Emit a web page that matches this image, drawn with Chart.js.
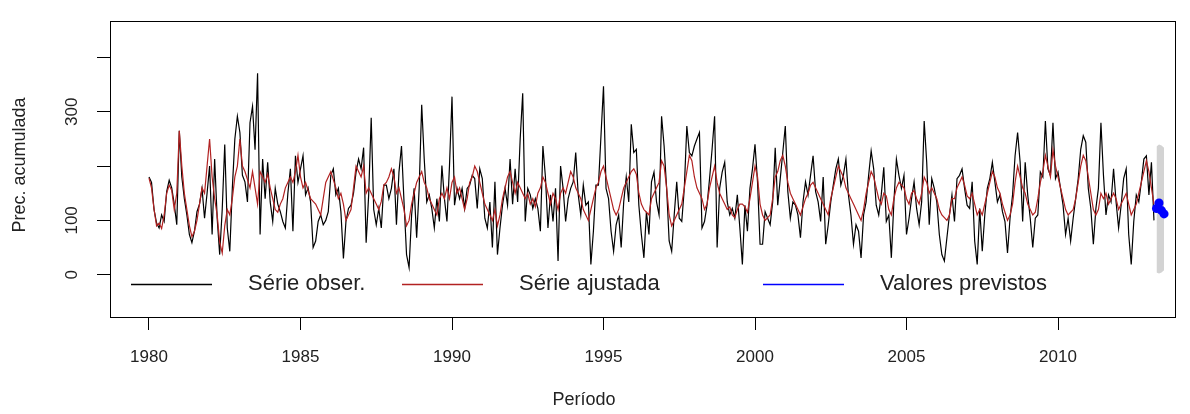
<!DOCTYPE html>
<html>
<head>
<meta charset="utf-8">
<script src="https://cdn.jsdelivr.net/npm/chart.js@4.4.0/dist/chart.umd.min.js"></script>
<style>
  html, body { margin: 0; padding: 0; background: #fff; }
  #wrap { width: 1190px; height: 414px; }
</style>
</head>
<body>
<div id="wrap"><canvas id="chart" width="1190" height="414"></canvas></div>
<script>
// monthly series starting Jan 1980, one row per year
const startYear = 1980;

const observed = [
  180,170,120,95,86,110,98,153,174,160,130,92,
  265,180,140,110,74,59,80,116,130,159,104,150,
  200,74,213,104,37,120,240,86,43,159,250,292,
  262,183,171,134,280,310,230,371,74,213,140,207,
  134,98,159,130,116,98,86,150,195,80,219,170,
  195,219,147,160,134,50,62,98,110,92,100,116,
  183,195,147,159,116,30,98,122,128,150,189,213,
  195,234,59,147,289,120,92,122,86,165,165,140,
  159,195,92,189,237,134,37,13,110,159,68,159,
  313,213,134,147,122,86,140,98,201,140,98,200,
  328,128,159,140,159,122,159,165,183,177,122,195,
  177,104,86,134,50,171,37,86,128,159,128,213,
  130,195,134,250,334,98,159,147,122,140,122,80,
  237,180,86,147,98,159,25,200,159,98,140,159,
  171,225,147,110,165,128,134,19,80,165,165,256,
  347,159,140,80,43,92,110,50,134,180,134,277,
  225,231,128,74,31,116,74,171,189,134,110,292,
  237,159,62,43,110,171,104,98,159,274,225,219,
  237,250,262,86,98,128,177,231,292,50,159,189,
  207,134,110,122,104,147,86,19,128,80,159,195,
  240,171,56,56,116,104,92,134,234,128,177,225,
  274,153,104,134,128,110,68,134,171,147,183,219,
  153,134,98,180,56,92,134,165,195,213,165,183,
  213,147,110,56,92,80,31,110,134,183,228,195,
  128,110,147,198,98,110,31,134,213,183,159,183,
  74,104,140,171,122,92,134,283,207,92,177,159,
  134,74,37,25,68,110,147,98,177,183,195,159,
  128,122,171,62,19,122,43,110,159,177,207,171,
  134,147,116,98,40,104,147,219,262,207,98,207,
  147,104,50,104,110,189,180,283,195,183,280,177,
  189,159,128,74,104,62,104,140,177,231,256,244,
  159,122,56,122,159,280,183,110,147,134,195,134,
  86,128,177,195,74,19,98,147,134,171,213,219,
  147,207,100
];

const fitted = [
  178,160,120,90,95,85,110,150,165,155,120,150,
  265,200,150,120,90,70,80,100,130,160,150,200,
  250,180,140,110,60,40,90,120,110,140,180,200,
  250,200,190,175,160,190,160,130,190,180,170,185,
  160,140,120,115,130,140,160,170,180,170,190,220,
  180,160,170,155,140,135,130,120,110,140,170,180,
  190,175,160,140,150,130,100,110,120,160,200,190,
  180,200,150,160,150,140,130,120,135,165,170,180,
  195,180,150,160,140,120,90,100,130,150,170,180,
  190,170,160,140,130,120,110,140,150,140,160,140,
  170,180,150,160,140,120,140,170,180,200,190,170,
  150,130,120,110,100,120,90,110,140,160,180,190,
  170,150,170,160,150,140,150,130,140,125,150,160,
  180,170,150,130,150,140,120,150,160,150,170,190,
  180,160,150,140,120,110,100,120,140,160,170,190,
  200,180,160,140,120,110,120,140,160,170,180,190,
  195,185,150,130,120,115,110,140,150,160,170,210,
  200,160,110,90,100,110,120,130,160,190,220,210,
  180,160,150,140,120,130,160,180,200,170,150,140,
  130,120,125,110,105,120,130,130,125,115,140,170,
  200,180,130,110,100,105,110,140,180,190,210,220,
  200,170,150,140,130,120,110,125,140,150,165,170,
  160,150,140,130,120,110,140,160,180,200,190,180,
  160,150,140,130,120,110,100,120,150,170,190,180,
  160,140,130,150,145,120,110,140,160,170,165,160,
  140,130,150,155,140,130,150,180,170,150,160,150,
  140,120,110,105,100,110,140,140,160,170,180,165,
  145,140,150,130,110,120,110,130,150,170,190,180,
  160,150,130,115,100,110,130,170,200,180,160,150,
  130,120,110,115,140,170,190,220,200,180,230,200,
  180,160,140,120,110,115,120,140,170,200,220,210,
  180,150,120,110,120,150,140,150,130,140,150,140,
  120,130,140,150,130,110,120,130,150,170,190,210,
  190,160,130
];

// forecast: month index counted from Jan 1980
const forecastMonths = [399, 400, 401, 402];
const forecast = [122, 132, 118, 112];
const forecastUpper = [236, 240, 238, 234];
const forecastLower = [4, 2, 4, 8];

const xTicks = [1980, 1985, 1990, 1995, 2000, 2005, 2010];
const yTicks = [0, 100, 200, 300, 400];
const yLabels = [0, 100, 300];

const legendItems = [
  { text: 'Série obser.', color: '#000000' },
  { text: 'Série ajustada', color: '#b22222' },
  { text: 'Valores previstos', color: '#0000ff' }
];

const FONT = '"Liberation Sans", Arial, sans-serif';

const series = vals => vals.map((v, i) => ({ x: startYear + i / 12, y: v }));
const fcSeries = vals => vals.map((v, i) => ({ x: startYear + forecastMonths[i] / 12, y: v }));

// box around the plot, axis titles and the legend inside the plot
const decorations = {
  id: 'decorations',
  afterDraw(chart) {
    const { ctx, chartArea: a } = chart;
    ctx.save();
    ctx.strokeStyle = '#000';
    ctx.lineWidth = 1;
    ctx.strokeRect(Math.round(a.left) + 0.5, Math.round(a.top) + 0.5,
      Math.round(a.right - a.left), Math.round(a.bottom - a.top));

    ctx.fillStyle = '#222';
    ctx.font = '18px ' + FONT;
    ctx.textAlign = 'center';
    ctx.textBaseline = 'middle';
    ctx.fillText('Período', 584, 400);
    ctx.save();
    ctx.translate(20, 165);
    ctx.rotate(-Math.PI / 2);
    ctx.fillText('Prec. acumulada', 0, 0);
    ctx.restore();

    // legend
    const ly = 284;
    const lineX = [131, 402, 763];
    ctx.font = '22px ' + FONT;
    ctx.textAlign = 'left';
    legendItems.forEach((item, i) => {
      ctx.strokeStyle = item.color;
      ctx.lineWidth = 1.3;
      ctx.beginPath();
      ctx.moveTo(lineX[i], ly + 0.5);
      ctx.lineTo(lineX[i] + 81, ly + 0.5);
      ctx.stroke();
      ctx.fillStyle = '#222';
      ctx.fillText(item.text, lineX[i] + 117, ly);
    });
    ctx.restore();
  }
};

const tickFont = { family: FONT, size: 17 };

new Chart(document.getElementById('chart'), {
  type: 'line',
  data: {
    datasets: [
      {
        label: 'Valores previstos',
        data: fcSeries(forecast),
        borderColor: '#0000ff',
        backgroundColor: '#0000ff',
        borderWidth: 1.3,
        pointRadius: 4.5,
        pointBorderWidth: 0,
        order: 0
      },
      {
        label: 'Série ajustada',
        data: series(fitted),
        borderColor: '#b22222',
        borderWidth: 1.2,
        pointRadius: 0,
        tension: 0,
        order: 1
      },
      {
        label: 'Série obser.',
        data: series(observed),
        borderColor: '#000000',
        borderWidth: 1.2,
        pointRadius: 0,
        tension: 0,
        order: 2
      },
      {
        label: 'upper',
        data: fcSeries(forecastUpper),
        borderWidth: 0,
        pointRadius: 0,
        backgroundColor: '#d3d3d3',
        fill: '+1',
        order: 3
      },
      {
        label: 'lower',
        data: fcSeries(forecastLower),
        borderWidth: 0,
        pointRadius: 0,
        fill: false,
        order: 4
      }
    ]
  },
  options: {
    responsive: false,
    animation: false,
    events: [],
    layout: { padding: { left: 0, top: 17, right: 15, bottom: 0 } },
    plugins: {
      legend: { display: false },
      tooltip: { enabled: false }
    },
    scales: {
      x: {
        type: 'linear',
        min: 1978.713,
        max: 2013.861,
        afterBuildTicks: s => { s.ticks = xTicks.map(v => ({ value: v })); },
        afterFit: s => { s.height = 97; },
        border: { display: false },
        grid: { drawOnChartArea: false, drawTicks: true, tickLength: 13, color: '#000' },
        ticks: {
          font: tickFont, color: '#222', padding: 17,
          maxRotation: 0, autoSkip: false,
          callback: v => String(v)
        }
      },
      y: {
        min: -78,
        max: 467,
        afterBuildTicks: s => { s.ticks = yTicks.map(v => ({ value: v })); },
        afterFit: s => { s.width = 110; },
        border: { display: false },
        grid: { drawOnChartArea: false, drawTicks: true, tickLength: 13, color: '#000' },
        ticks: {
          font: tickFont, color: '#222', padding: 11,
          minRotation: 90, maxRotation: 90, crossAlign: 'center', autoSkip: false,
          callback: v => (yLabels.includes(v) ? String(v) : '')
        }
      }
    }
  },
  plugins: [decorations]
});
</script>
</body>
</html>
